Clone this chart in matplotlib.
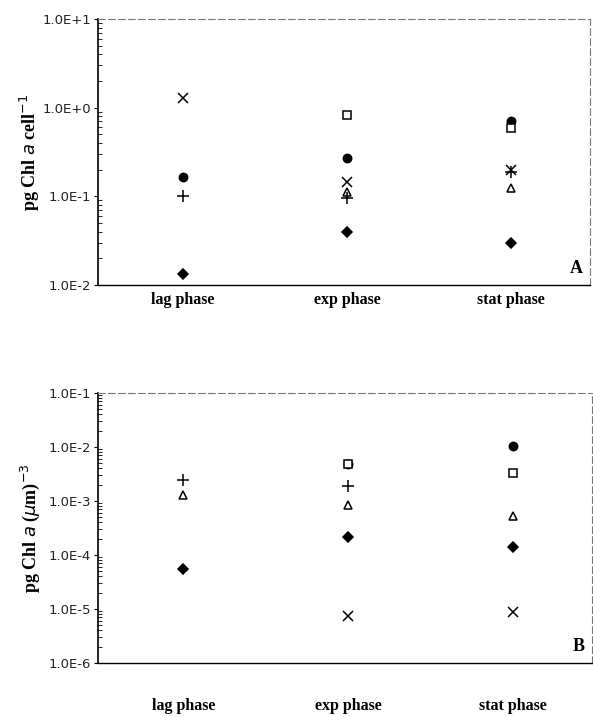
import numpy as np
from matplotlib import pyplot as plt

phases = ['lag phase', 'exp phase', 'stat phase']
nan = np.nan

# panel A: pg Chl a per cell
diamond_a = [0.0133, 0.040, 0.030]
circle_a = [0.165, 0.27, 0.71]
square_a = [nan, 0.83, 0.59]
triangle_a = [nan, 0.112, 0.124]
cross_a = [1.28, 0.145, 0.20]
plus_a = [0.100, 0.096, 0.19]

# panel B: pg Chl a per um^3
diamond_b = [5.5e-5, 2.2e-4, 1.4e-4]
circle_b = [nan, 4.8e-3, 1.05e-2]
square_b = [nan, 4.8e-3, 3.3e-3]
triangle_b = [1.3e-3, 8.5e-4, 5.3e-4]
plus_b = [2.4e-3, 1.9e-3, nan]
cross_b = [nan, 7.5e-6, 8.7e-6]

serif = 'Liberation Serif'


def draw(ax, series, ylim, exps, ylabel, letter, pad):
    x = np.arange(1, 4)
    styles = [
        ('D', 'k', 'k', 5),
        ('o', 'k', 'k', 6),
        ('s', 'white', 'k', 6),
        ('^', 'white', 'k', 6),
        ('x', 'k', 'k', 7),
        ('+', 'k', 'k', 8),
    ]
    for vals, (m, fc, ec, ms) in zip(series, styles):
        ax.plot(x, vals, ls='none', marker=m, mfc=fc, mec=ec, ms=ms, mew=1.1)
    ax.set_yscale('log')
    ax.set_ylim(*ylim)
    ax.set_xlim(0.48, 3.48)
    ticks = [10.0 ** e for e in exps]
    ax.set_yticks(ticks)
    ax.set_yticklabels(['1.0E%+d' % e for e in exps], fontsize=9.5,
                       family='DejaVu Sans', color='#222222')
    ax.tick_params(axis='y', which='major', direction='out', length=3, pad=2)
    ax.tick_params(axis='y', which='minor', direction='in', length=3)
    ax.set_xticks(x)
    ax.set_xticklabels(phases, family=serif, fontweight='bold', fontsize=11.5)
    ax.tick_params(axis='x', length=0, pad=pad)
    ax.set_ylabel(ylabel, family=serif, fontweight='bold', fontsize=13)
    for s in ['top', 'right']:
        ax.spines[s].set_linestyle((0, (6, 3)))
        ax.spines[s].set_color('#777777')
        ax.spines[s].set_linewidth(0.8)
    ax.spines['bottom'].set_linewidth(1.0)
    ax.spines['left'].set_linewidth(1.2)
    ax.text(0.985, 0.03, letter, transform=ax.transAxes, ha='right',
            va='bottom', family=serif, fontweight='bold', fontsize=13)


fig = plt.figure(figsize=(5.93, 7.17), dpi=100)
ax1 = fig.add_axes([0.165, 0.6025, 0.83, 0.371])
ax2 = fig.add_axes([0.165, 0.0753, 0.833, 0.3766])

draw(ax1, [diamond_a, circle_a, square_a, triangle_a, cross_a, plus_a],
     (1e-2, 1e1), [1, 0, -1, -2], 'pg Chl $a$ cell$^{-1}$', 'A', 5)
draw(ax2, [diamond_b, circle_b, square_b, triangle_b, cross_b, plus_b],
     (1e-6, 1e-1), [-1, -2, -3, -4, -5, -6],
     'pg Chl $a$ ($\\mu$m)$^{-3}$', 'B', 25)

ax1.yaxis.set_label_coords(-0.113, 0.5)
ax2.yaxis.set_label_coords(-0.113, 0.5)

fig.savefig('out.png', dpi=100)
